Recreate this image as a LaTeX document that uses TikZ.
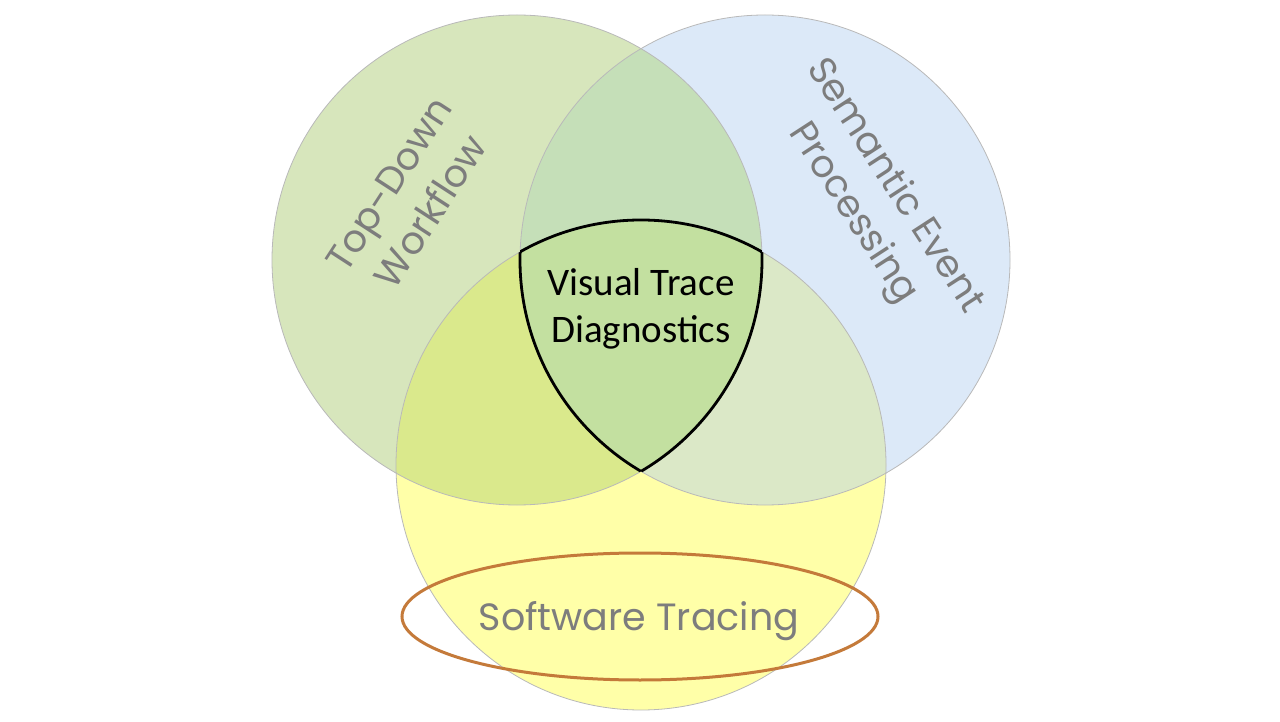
\documentclass[tikz,border=0pt]{standalone}
\usepackage{fontspec}
\usepackage{xcolor}
\usepackage{tikz}
\newfontfamily\setfont{Poppins}
\newfontfamily\corefont{Carlito}
\definecolor{greenfill}{RGB}{215,230,188}
\definecolor{bluefill}{RGB}{220,233,248}
\definecolor{yellowfill}{RGB}{255,255,168}
\definecolor{gbfill}{RGB}{197,223,184}
\definecolor{gyfill}{RGB}{218,233,140}
\definecolor{byfill}{RGB}{219,232,199}
\definecolor{corefill}{RGB}{195,224,160}
\definecolor{labelgray}{RGB}{125,125,125}
\definecolor{ringbrown}{RGB}{196,122,58}
\tikzset{
  setlabel/.style={font=\setfont\fontsize{38}{50}\selectfont, text=labelgray, align=center, inner sep=0pt},
  ringline/.style={draw=gray!55, line width=0.8pt},
  coreline/.style={draw=black, line width=2.8pt}
}

\begin{document}
\begin{tikzpicture}[x=1pt, y=1pt]
    \useasboundingbox (0,0) rectangle (1280,721);
    \def\circr{245pt}
    % centres of the three sets
    \coordinate (G) at (517,461);
    \coordinate (B) at (765,461);
    \coordinate (Y) at (641,256);
    % single sets
    \fill[greenfill] (G) circle (\circr);
    \fill[bluefill] (B) circle (\circr);
    \fill[yellowfill] (Y) circle (\circr);
    % pairwise overlaps
    \begin{scope}
        \clip (G) circle (\circr);
        \fill[gbfill] (B) circle (\circr);
        \fill[gyfill] (Y) circle (\circr);
    \end{scope}
    \begin{scope}
        \clip (B) circle (\circr);
        \fill[byfill] (Y) circle (\circr);
    \end{scope}
    % triple overlap
    \begin{scope}
        \clip (G) circle (\circr);
        \clip (B) circle (\circr);
        \fill[corefill] (Y) circle (\circr);
    \end{scope}
    \draw[ringline] (G) circle (\circr);
    \draw[ringline] (B) circle (\circr);
    \draw[ringline] (Y) circle (\circr);
    % border of the triple overlap, one arc per circle
    \begin{scope}
        \clip (B) circle (\circr); \clip (Y) circle (\circr);
        \draw[coreline] (G) circle (\circr);
    \end{scope}
    \begin{scope}
        \clip (G) circle (\circr); \clip (Y) circle (\circr);
        \draw[coreline] (B) circle (\circr);
    \end{scope}
    \begin{scope}
        \clip (G) circle (\circr); \clip (B) circle (\circr);
        \draw[coreline] (Y) circle (\circr);
    \end{scope}
    % ring round the tracing label
    \draw[draw=ringbrown, line width=3pt] (640,104.5) ellipse [x radius=238pt, y radius=63.5pt];
    \node[setlabel, rotate=57] (topdown) at (410,523) {Top-Down\\Workflow};
    \node[setlabel, rotate=-57] (semantic) at (873,521) {Semantic Event\\Processing};
    \node[setlabel, anchor=base] (tracing) at (639,91) {Software Tracing};
    \node[font=\corefont\fontsize{39}{47}\selectfont, align=center, inner sep=0pt] (core) at (641,412) {Visual Trace\\Diagnostics};
\end{tikzpicture}
\end{document}
